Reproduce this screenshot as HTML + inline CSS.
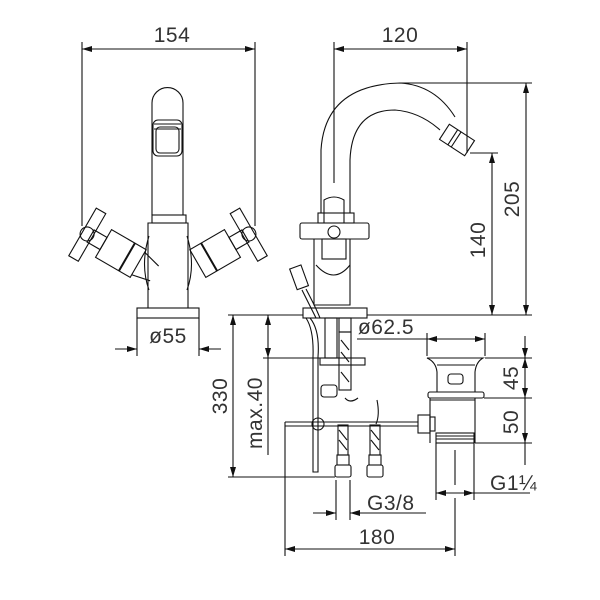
<!DOCTYPE html>
<html><head><meta charset="utf-8"><style>
html,body{margin:0;padding:0;background:#fff}
svg{display:block}
text{font-family:"Liberation Sans",sans-serif;font-size:21px;fill:#333;letter-spacing:0.5px}
</style></head><body>
<svg width="600" height="600" viewBox="0 0 600 600" xmlns="http://www.w3.org/2000/svg">
<defs>
<marker id="a" markerWidth="10" markerHeight="6" refX="10" refY="3" orient="auto-start-reverse" markerUnits="userSpaceOnUse"><path d="M0,0 L10,3 L0,6 z" fill="#111"/></marker>
</defs>
<g fill="none" stroke="#111" stroke-width="1.1">
<line x1="82" y1="42" x2="82" y2="226"/><line x1="255" y1="42" x2="255" y2="226"/>
<line x1="82" y1="49" x2="255" y2="49" marker-start="url(#a)" marker-end="url(#a)"/>
<path d="M152,215 V103 A15.5,15.5 0 0 1 183,103 V215"/>
<rect x="153" y="120" width="29" height="36" rx="5"/>
<rect x="156" y="127" width="23" height="26" rx="4"/>
<line x1="154" y1="124" x2="181" y2="124"/><line x1="154" y1="129" x2="181" y2="129"/>
<rect x="152" y="215" width="34" height="8"/>
<path d="M148,223 H188 V308 H148 Z"/>
<path d="M149,236 Q140,265 149,290"/><path d="M187,236 Q196,265 187,290"/>
<rect x="137" y="308" width="62" height="10"/>
<line x1="137" y1="318" x2="137" y2="356"/><line x1="199" y1="318" x2="199" y2="356"/>
<line x1="115" y1="349" x2="137" y2="349" marker-end="url(#a)"/><line x1="221" y1="349" x2="199" y2="349" marker-end="url(#a)"/>
<g transform="rotate(30 120 253)">
<rect x="101" y="237" width="40" height="32"/><line x1="128" y1="237" x2="128" y2="269" stroke-width="2"/>
<rect x="86" y="246" width="15" height="14"/>
<rect x="77" y="226" width="11" height="55"/>
<circle cx="82" cy="253" r="7"/>
<line x1="141" y1="240" x2="160" y2="245"/><line x1="141" y1="266" x2="160" y2="262"/>
</g>
<g transform="rotate(-30 216 253)">
<rect x="195" y="237" width="40" height="32"/><line x1="208" y1="237" x2="208" y2="269" stroke-width="2"/>
<rect x="235" y="246" width="15" height="14"/>
<rect x="248" y="226" width="11" height="55"/>
<circle cx="254" cy="253" r="7"/>
</g>
<line x1="334" y1="42" x2="334" y2="183"/><line x1="467" y1="42" x2="467" y2="153"/>
<line x1="334" y1="49" x2="467" y2="49" marker-start="url(#a)" marker-end="url(#a)"/>
<path d="M321,213 V150 Q325,85 400,83 Q435,85 455,117"/>
<path d="M350,213 V160 Q352,110 395,110 Q420,112 440,130"/>
<g transform="rotate(33 457 140)">
<rect x="442" y="131" width="30" height="18"/>
<line x1="452" y1="131" x2="452" y2="149"/><line x1="456" y1="131" x2="456" y2="149"/>
</g>
<line x1="400" y1="83" x2="532" y2="83"/><line x1="470" y1="153" x2="498" y2="153"/>
<line x1="526" y1="83" x2="526" y2="315" marker-start="url(#a)" marker-end="url(#a)"/>
<line x1="492" y1="153" x2="492" y2="315" marker-start="url(#a)" marker-end="url(#a)"/>
<line x1="367" y1="315" x2="532" y2="315"/>
<rect x="318" y="213" width="36" height="10"/>
<path d="M324,223 V200 Q334,194 344,200 V223"/>
<rect x="300" y="223" width="69" height="16" rx="2"/>
<rect x="322" y="239" width="24" height="20"/>
<circle cx="334" cy="232" r="6"/>
<path d="M314,239 V305 H350 V239"/>
<path d="M316,265 Q334,285 350,265"/>
<rect x="303" y="308" width="64" height="10"/>
<g transform="rotate(-20 300 277)"><rect x="293" y="266" width="12" height="22"/></g>
<path d="M302,290 Q312,310 316,318"/><path d="M306,289 Q316,308 320,318"/>
<path d="M310,318 Q320,330 318,357 V472 H313 V357 Q314,330 306,318"/>
<rect x="325" y="318" width="12" height="40"/>
<rect x="339" y="318" width="12" height="14"/><rect x="339" y="332" width="12" height="58"/>
<line x1="341" y1="340" x2="349" y2="350"/><line x1="341" y1="352" x2="349" y2="362"/><line x1="341" y1="372" x2="349" y2="382"/>
<rect x="320" y="358" width="45" height="7"/>
<rect x="321" y="385" width="16" height="12" rx="3"/>
<path d="M345,398 Q350,404 358,398"/><path d="M377,400 Q380,415 376,424"/>
<line x1="285" y1="422" x2="418" y2="422"/><line x1="285" y1="426" x2="418" y2="426"/>
<line x1="285" y1="422" x2="285" y2="426"/>
<circle cx="318" cy="424" r="6"/>
<rect x="418" y="415" width="12" height="18"/><rect x="430" y="417" width="5" height="14"/>
<rect x="338" y="425" width="10" height="30"/><rect x="370" y="425" width="10" height="30"/>
<line x1="339" y1="430" x2="347" y2="440"/><line x1="339" y1="440" x2="347" y2="450"/>
<line x1="371" y1="430" x2="379" y2="440"/><line x1="371" y1="440" x2="379" y2="450"/>
<rect x="337" y="455" width="12" height="10"/><rect x="369" y="455" width="12" height="10"/>
<rect x="335" y="465" width="16" height="12" rx="2"/><rect x="367" y="465" width="16" height="12" rx="2"/>
<line x1="228" y1="315" x2="303" y2="315"/>
<line x1="233" y1="315" x2="233" y2="477" marker-start="url(#a)" marker-end="url(#a)"/>
<line x1="228" y1="477" x2="335" y2="477"/>
<line x1="263" y1="358" x2="320" y2="358"/>
<line x1="268" y1="315" x2="268" y2="358" marker-start="url(#a)" marker-end="url(#a)"/>
<line x1="268" y1="358" x2="268" y2="455"/>
<line x1="285" y1="426" x2="285" y2="556"/>
<line x1="285" y1="549" x2="455" y2="549" marker-start="url(#a)" marker-end="url(#a)"/>
<line x1="455" y1="498" x2="455" y2="556"/>
<line x1="336" y1="480" x2="336" y2="520"/><line x1="350" y1="480" x2="350" y2="520"/>
<line x1="313" y1="513" x2="336" y2="513" marker-end="url(#a)"/><line x1="426" y1="513" x2="350" y2="513" marker-end="url(#a)"/>
<path d="M427,358 H483 Q476,362 475,372 V392 H437 V372 Q436,362 427,358 Z"/>
<line x1="437" y1="365" x2="475" y2="365"/>
<rect x="448" y="374" width="15" height="10" rx="3"/>
<rect x="428" y="392" width="56" height="6" rx="2"/>
<line x1="430" y1="398" x2="430" y2="443"/><line x1="475" y1="398" x2="475" y2="443"/>
<line x1="430" y1="400" x2="475" y2="400"/>
<rect x="436" y="433" width="38" height="10"/>
<line x1="436" y1="436" x2="474" y2="436"/><line x1="436" y1="439" x2="474" y2="439"/>
<path d="M436,443 V495 M474,443 V495"/>
<line x1="455" y1="450" x2="455" y2="485"/>
<line x1="427" y1="333" x2="427" y2="356"/><line x1="485" y1="333" x2="485" y2="356"/>
<line x1="357" y1="339" x2="427" y2="339"/>
<line x1="427" y1="339" x2="485" y2="339" marker-start="url(#a)" marker-end="url(#a)"/>
<line x1="485" y1="358" x2="532" y2="358"/><line x1="484" y1="398" x2="532" y2="398"/><line x1="475" y1="443" x2="532" y2="443"/>
<line x1="525" y1="336" x2="525" y2="358" marker-end="url(#a)"/>
<line x1="525" y1="358" x2="525" y2="398" marker-start="url(#a)" marker-end="url(#a)"/>
<line x1="525" y1="398" x2="525" y2="443" marker-end="url(#a)"/>
<line x1="525" y1="443" x2="525" y2="465"/>
<line x1="436" y1="495" x2="436" y2="500"/><line x1="474" y1="495" x2="474" y2="500"/>
<line x1="436" y1="493" x2="474" y2="493" marker-start="url(#a)" marker-end="url(#a)"/>
<line x1="474" y1="493" x2="530" y2="493"/>
</g>
<text x="172" y="42" text-anchor="middle">154</text>
<text x="168" y="343" text-anchor="middle">ø55</text>
<text x="400" y="42" text-anchor="middle">120</text>
<text transform="translate(519,199) rotate(-90)" text-anchor="middle">205</text>
<text transform="translate(485,240) rotate(-90)" text-anchor="middle">140</text>
<text x="386" y="334" text-anchor="middle">ø62.5</text>
<text transform="translate(227,396) rotate(-90)" text-anchor="middle">330</text>
<text transform="translate(262,413) rotate(-90)" text-anchor="middle">max.40</text>
<text transform="translate(518,378) rotate(-90)" text-anchor="middle">45</text>
<text transform="translate(518,422) rotate(-90)" text-anchor="middle">50</text>
<text x="490" y="490">G1¼</text>
<text x="367" y="510">G3/8</text>
<text x="377" y="544" text-anchor="middle">180</text>
</svg>
</body></html>
